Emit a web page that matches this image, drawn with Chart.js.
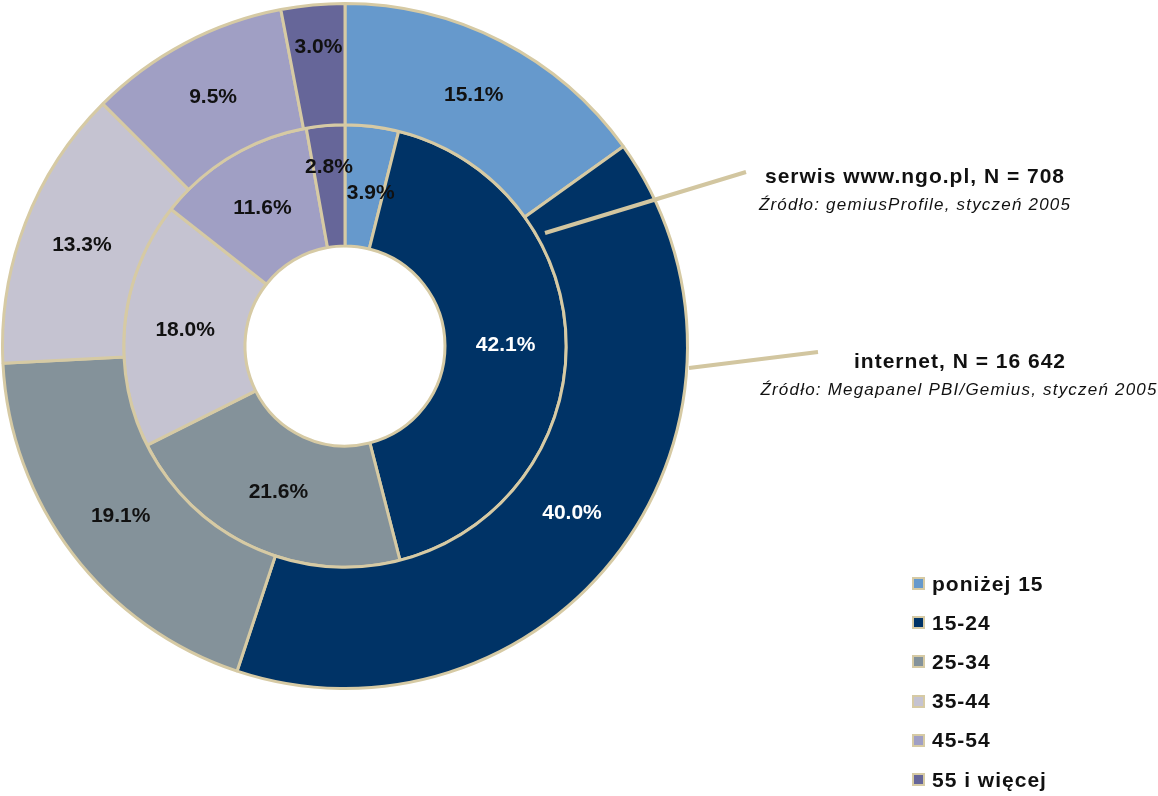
<!DOCTYPE html>
<html>
<head>
<meta charset="utf-8">
<script src="https://cdn.jsdelivr.net/npm/chart.js@4/dist/chart.umd.min.js"></script>
<style>
  html, body { margin: 0; padding: 0; background: #fff; }
  #wrap { position: relative; width: 1158px; height: 796px; }
  #chart { position: absolute; left: 0; top: 0; }
  #legend { position: absolute; left: 912px; top: 564px; font-family: "Liberation Sans", Arial, sans-serif; font-weight: bold; font-size: 21px; letter-spacing: 1px; color: #111; }
  #legend div { height: 39.2px; display: flex; align-items: center; }
  #legend span.box { display: inline-block; width: 9px; height: 9px; border: 2px solid #d6caa4; margin-right: 7px; }
</style>
</head>
<body>
<div id="wrap">
  <canvas id="chart" width="1158" height="796"></canvas>
  <div id="legend"></div>
</div>
<script>
const categories = ['poniżej 15', '15-24', '25-34', '35-44', '45-54', '55 i więcej'];
const internetValues = [15.1, 40.0, 19.1, 13.3, 9.5, 3.0];
const ngoValues = [3.9, 42.1, 21.6, 18.0, 11.6, 2.8];
const seriesNames = ['internet, N = 16 642', 'serwis www.ngo.pl, N = 708'];
const sourceNotes = ['Źródło: Megapanel PBI/Gemius, styczeń 2005', 'Źródło: gemiusProfile, styczeń 2005'];

const colors = ['#6699cc', '#003366', '#84929a', '#c5c3d1', '#a09fc4', '#666699'];
const borderColor = '#d6caa4';
const font = '"Liberation Sans", Arial, sans-serif';

// small nudges for the crowded labels near the top of the chart
const labelNudge = { '0-5': [0, -18], '1-0': [6, 7], '1-5': [-2, -19] };

const sliceLabels = {
  id: 'sliceLabels',
  afterDatasetsDraw(chart) {
    const ctx = chart.ctx;
    ctx.save();
    ctx.font = 'bold 21px ' + font;
    ctx.textAlign = 'center';
    ctx.textBaseline = 'middle';
    chart.data.datasets.forEach((ds, di) => {
      chart.getDatasetMeta(di).data.forEach((arc, i) => {
        const p = arc.tooltipPosition();
        const n = labelNudge[di + '-' + i] || [0, 0];
        ctx.fillStyle = i === 1 ? '#ffffff' : '#111111';
        ctx.fillText(ds.data[i].toFixed(1) + '%', p.x + n[0], p.y + n[1]);
      });
    });
    ctx.restore();
  }
};

const seriesNotes = {
  id: 'seriesNotes',
  afterDraw(chart) {
    const ctx = chart.ctx;
    ctx.save();
    ctx.strokeStyle = '#d2c6a0';
    ctx.lineWidth = 4;
    ctx.beginPath();
    ctx.moveTo(545, 233); ctx.lineTo(746, 172);
    ctx.moveTo(689, 368); ctx.lineTo(818, 352);
    ctx.stroke();

    ctx.fillStyle = '#111';
    ctx.textAlign = 'center';
    ctx.textBaseline = 'alphabetic';
    ctx.letterSpacing = '1px';
    ctx.font = 'bold 21px ' + font;
    ctx.fillText(seriesNames[1], 915, 183);
    ctx.fillText(seriesNames[0], 960, 368);
    ctx.letterSpacing = '1.2px';
    ctx.font = 'italic 17px ' + font;
    ctx.fillText(sourceNotes[1], 915, 210);
    ctx.fillText(sourceNotes[0], 959, 395);
    ctx.restore();
  }
};

const chart = new Chart(document.getElementById('chart'), {
  type: 'doughnut',
  data: {
    labels: categories,
    datasets: [
      { label: seriesNames[0], data: internetValues, backgroundColor: colors, borderColor: borderColor, borderWidth: 3 },
      { label: seriesNames[1], data: ngoValues, backgroundColor: colors, borderColor: borderColor, borderWidth: 3 },
    ],
  },
  options: {
    responsive: false,
    animation: false,
    cutout: '29.2%',
    layout: { padding: { left: 1, top: 2, right: 469, bottom: 106 } },
    plugins: {
      legend: { display: false },
      tooltip: { enabled: false },
    },
  },
  plugins: [sliceLabels, seriesNotes],
});

const legend = document.getElementById('legend');
categories.forEach((c, i) => {
  const row = document.createElement('div');
  row.innerHTML = '<span class="box" style="background:' + colors[i] + '"></span>' + c;
  legend.appendChild(row);
});
</script>
</body>
</html>
